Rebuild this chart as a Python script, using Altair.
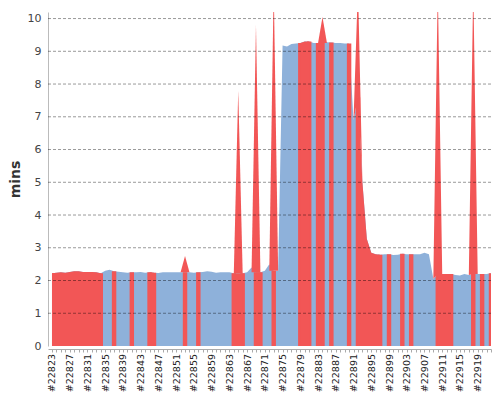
import altair as alt
import pandas as pd

# ---- data ----
builds = list(range(22823, 22923))

# F = failed (red band), P = passed (blue band), one letter per build
status = ("FFFFFFFFFF" "FFPPFPPPFP" "PPFFPPPPPP" "FPPFPPPPPP" "PFFFPPFFPP"
          "FPPPPPFFFP" "FFPFPPPFPF" "FFFFFPFPPF" "PFPPPPPFFF" "FPPPPFPFPF")

duration = [
    2.22, 2.24, 2.25, 2.24, 2.26, 2.28, 2.28, 2.26, 2.26, 2.26,
    2.25, 2.22, 2.30, 2.33, 2.28, 2.27, 2.25, 2.24, 2.25, 2.25,
    2.26, 2.24, 2.25, 2.24, 2.23, 2.25, 2.25, 2.25, 2.25, 2.25,
    2.25, 2.25, 2.24, 2.25, 2.26, 2.28, 2.27, 2.24, 2.25, 2.25,
    2.25, 2.22, 2.22, 2.22, 2.25, 2.40, 2.25, 2.25, 2.30, 2.50,
    2.30, 2.30, 9.18, 9.15, 9.22, 9.24, 9.25, 9.30, 9.30, 9.25,
    9.25, 9.25, 9.28, 9.27, 9.25, 9.25, 9.24, 9.24, 6.90, 7.60,
    5.00, 3.27, 2.85, 2.80, 2.79, 2.80, 2.80, 2.78, 2.79, 2.82,
    2.80, 2.80, 2.80, 2.80, 2.85, 2.80, 2.05, 2.20, 2.20, 2.20,
    2.20, 2.17, 2.15, 2.20, 2.17, 2.20, 2.20, 2.20, 2.20, 2.22,
]

spike_builds = [22853, 22865, 22869, 22873, 22884, 22892, 22910, 22918]
spike_peaks = [2.75, 7.8, 9.8, 11.0, 10.05, 11.0, 11.0, 11.0]

gridlines = list(range(1, 11))

RED = "#F25656"
BLUE = "#8EB1DA"

# ---- tables built from the arrays ----
base_df = pd.DataFrame({"build": builds, "duration": duration})

run_rows, step_rows = [], []
run_id = 0
n = len(builds)
for i, b in enumerate(builds):
    failed = status[i] == "F"
    prev_f = i > 0 and status[i - 1] == "F"
    next_f = i < n - 1 and status[i + 1] == "F"
    if failed and not prev_f:
        run_id += 1
    if failed:
        run_rows.append({"build": b, "duration": duration[i], "run": run_id})
    edge = failed and not (prev_f and next_f)
    step_rows.append({"build": b, "duration": duration[i] if edge else 0.0})
run_df = pd.DataFrame(run_rows)
step_df = pd.DataFrame(step_rows)

spike_rows = []
for k, (b, p) in enumerate(zip(spike_builds, spike_peaks)):
    i = builds.index(b)
    lvl = duration[i]
    left = min(lvl, duration[i - 1])
    right = min(lvl, duration[i + 1])
    spike_rows.append({"build": b - 1, "duration": left, "lo": left, "spike": k})
    spike_rows.append({"build": b, "duration": p, "lo": lvl, "spike": k})
    spike_rows.append({"build": b + 1, "duration": right, "lo": right, "spike": k})
spike_df = pd.DataFrame(spike_rows)

grid_df = pd.DataFrame({"duration": gridlines})

# ---- scales / axes ----
x_scale = alt.Scale(domain=[22822.1, 22922], nice=False, zero=False)
y_scale = alt.Scale(domain=[0, 10.2], nice=False)

x_axis = alt.Axis(
    values=builds,
    labelExpr="(datum.value - 22823) % 4 == 0 ? '#' + datum.value : ''",
    labelAngle=270, labelFontSize=9.5, labelFont="DejaVu Sans", labelColor="#222",
    labelPadding=1.5, labelOverlap=False, labelFlush=False,
    tickSize=3, tickColor="#aaa", domainColor="#aaa", offset=3,
    grid=False, title="",
)
y_axis = alt.Axis(
    values=list(range(11)), grid=False, ticks=False,
    labelFontSize=11, labelFont="DejaVu Sans", labelColor="#444", labelPadding=7,
    domainColor="#bbb",
    title="mins", titleFontSize=14, titleFont="DejaVu Sans", titleFontWeight="bold",
    titleColor="#333", titlePadding=5,
)

X = alt.X("build:Q", scale=x_scale, axis=x_axis)
Y = alt.Y("duration:Q", scale=y_scale, axis=y_axis, title="mins", stack=False)

blue = alt.Chart(base_df).mark_area(color=BLUE, opacity=1, interpolate="linear", clip=True).encode(x=X, y=Y)
red_step = alt.Chart(step_df).mark_area(color=RED, opacity=1, interpolate="step", clip=True).encode(x=X, y=Y)
red_runs = alt.Chart(run_df).mark_area(color=RED, opacity=1, interpolate="linear", clip=True).encode(
    x=X, y=Y, detail="run:N")
red_spikes = alt.Chart(spike_df).mark_area(color=RED, opacity=1, interpolate="linear", clip=True).encode(
    x=X, y=Y, y2="lo:Q", detail="spike:N")
grid = alt.Chart(grid_df).mark_rule(color="#000", opacity=0.4, strokeDash=[3, 2], strokeWidth=1).encode(y=Y)

chart = alt.layer(blue, red_step, red_runs, red_spikes, grid).properties(
    width=443, height=334, autosize="none",
    padding={"left": 40, "top": 4, "right": 1, "bottom": 46},
).configure_view(stroke=None)

chart.save("out.html", embed_options={"renderer": "svg", "actions": False})
